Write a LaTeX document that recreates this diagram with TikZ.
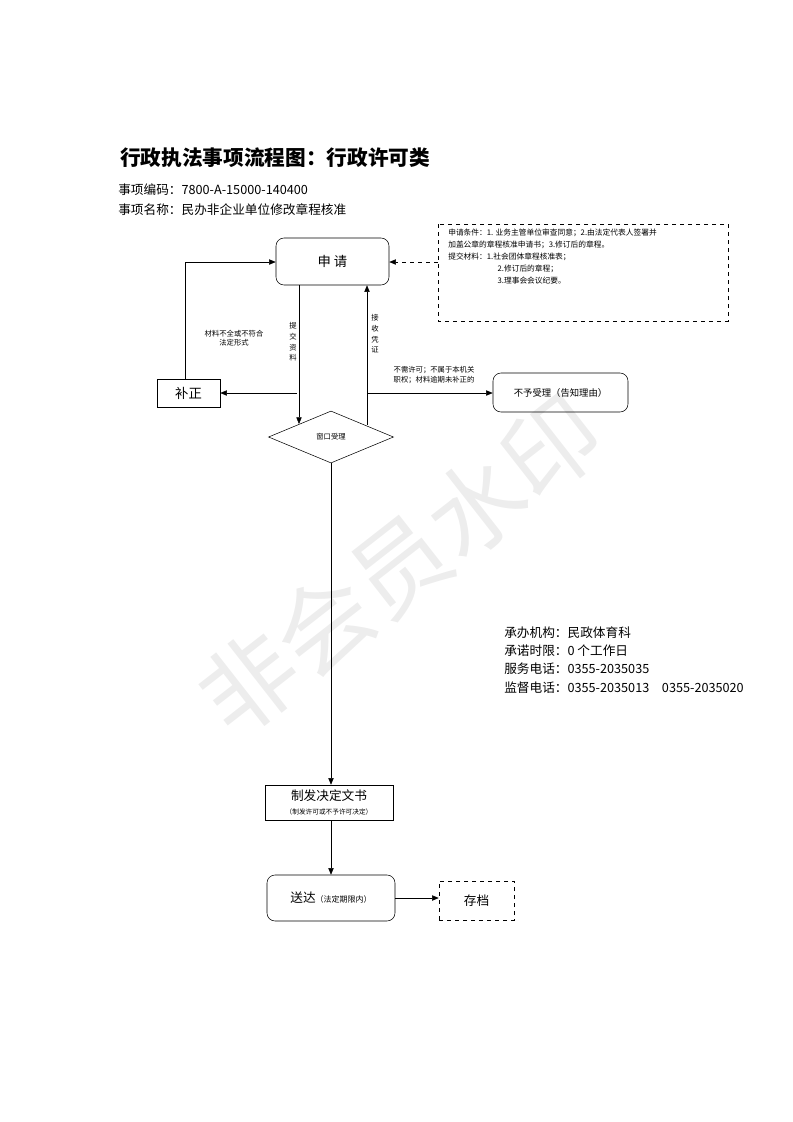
\documentclass[tikz,border=0pt]{standalone}
\usepackage{fontspec}
\setmainfont{Noto Sans CJK SC}
\usetikzlibrary{shapes.geometric,arrows.meta}
\begin{document}
\begin{tikzpicture}[x=0.75pt,y=-0.75pt,
  box/.style={draw,thick,inner sep=0,minimum width=#1},
  arr/.style={-{Triangle[length=5pt,width=4pt]},thin},
  small/.style={font=\fontsize{5.5}{7}\selectfont,align=center,inner sep=0},
  body/.style={font=\fontsize{9.5}{12}\selectfont,anchor=west,inner sep=0}]
\useasboundingbox (0,0) rectangle (793,1122);
\node[rotate=38,text=black!7,font=\fontsize{72}{72}\selectfont] (wm) at (400,565) {非会员水印};
\node[anchor=west,font=\bfseries\fontsize{15.5}{17}\selectfont,inner sep=0] (title) at (120,158) {行政执法事项流程图：行政许可类};
\node[body] (code) at (118,190) {事项编码：7800-A-15000-140400};
\node[body] (name) at (118,210) {事项名称：民办非企业单位修改章程核准};
% boxes
\draw[rounded corners=6pt] (276,238) rectangle (389,285);
\node (sq) at (332.5,261.5) [minimum width=113*0.75pt,minimum height=47*0.75pt,font=\fontsize{10}{12}\selectfont] {申 请};
\draw[dashed] (438,224) rectangle (728,321);
\node (cond) at (583,272) [minimum width=290*0.75pt,minimum height=97*0.75pt] {};
\node[anchor=north west,inner sep=0,font=\fontsize{5.8}{9}\selectfont,align=left] (condt) at (448,229) {申请条件：1. 业务主管单位审查同意；2.由法定代表人签署并\\加盖公章的章程核准申请书；3.修订后的章程。\\提交材料：1.社会团体章程核准表；\\\hspace*{37pt}2.修订后的章程；\\\hspace*{37pt}3.理事会会议纪要。};
\node[draw,minimum width=63*0.75pt,minimum height=28*0.75pt,font=\fontsize{10}{12}\selectfont] (bz) at (188.5,393) {补正};
\node[draw,rounded corners=6pt,minimum width=135*0.75pt,minimum height=39*0.75pt,font=\fontsize{7}{9}\selectfont] (byl) at (560.5,392.5) {不予受理（告知理由）};
\node[draw,diamond,aspect=2.4,minimum width=125*0.75pt,minimum height=52*0.75pt,inner sep=0,font=\fontsize{5.5}{7}\selectfont] (ck) at (331,437) {窗口受理};
\node[draw,minimum width=128*0.75pt,minimum height=35*0.75pt,align=center,inner sep=0] (zf) at (329,802.5) {{\fontsize{9.5}{11}\selectfont 制发决定文书}\\[-2pt]{\fontsize{5}{6}\selectfont（制发许可或不予许可决定）}};
\node[draw,rounded corners=6pt,minimum width=128*0.75pt,minimum height=46*0.75pt] (sd) at (331,898) {{\fontsize{9.5}{11}\selectfont 送达}{\fontsize{6}{7}\selectfont（法定期限内）}};
\node[draw,dashed,minimum width=75*0.75pt,minimum height=39*0.75pt,font=\fontsize{9.5}{11}\selectfont] (cd) at (476.5,900.5) {存档};
% connectors
\coordinate (a1) at (185,262);
\draw[arr] (bz.north -| a1) -- (a1) -- (sq.west |- a1);
\draw[arr,dashed] (cond.west |- 0,262) -- (sq.east |- 0,262);
\coordinate (p1) at (299,424);
\draw[arr] (sq.south -| p1) -- (p1);
\coordinate (p2) at (367,425);
\draw[arr] (p2) -- (sq.south -| p2);
\draw[arr] (297,393) coordinate (p3) -- (bz.east |- p3);
\draw[arr] (367,393) coordinate (p4) -- (byl.west |- p4);
\draw[arr] (ck.south) -- (zf.north -| ck.south);
\draw[arr] (zf.south -| sd.north) -- (sd.north);
\draw[arr] (sd.east) -- (cd.west |- sd.east);
% labels
\node[small] (l1) at (234,338) {材料不全或不符合\\法定形式};
\node[small,font=\fontsize{5.5}{8}\selectfont] (l2) at (293,342) {提\\交\\资\\料};
\node[small,font=\fontsize{5.5}{8}\selectfont] (l3) at (375,334) {接\\收\\凭\\证};
\node[small] (l4) at (434,375) {不需许可；不属于本机关\\职权；材料逾期未补正的};
% info
\node[body] (i1) at (504,633) {承办机构：民政体育科};
\node[body] (i2) at (504,651) {承诺时限：0 个工作日};
\node[body] (i3) at (504,669) {服务电话：0355-2035035};
\node[body] (i4) at (504,688) {监督电话：0355-2035013\quad 0355-2035020};
\end{tikzpicture}
\end{document}
